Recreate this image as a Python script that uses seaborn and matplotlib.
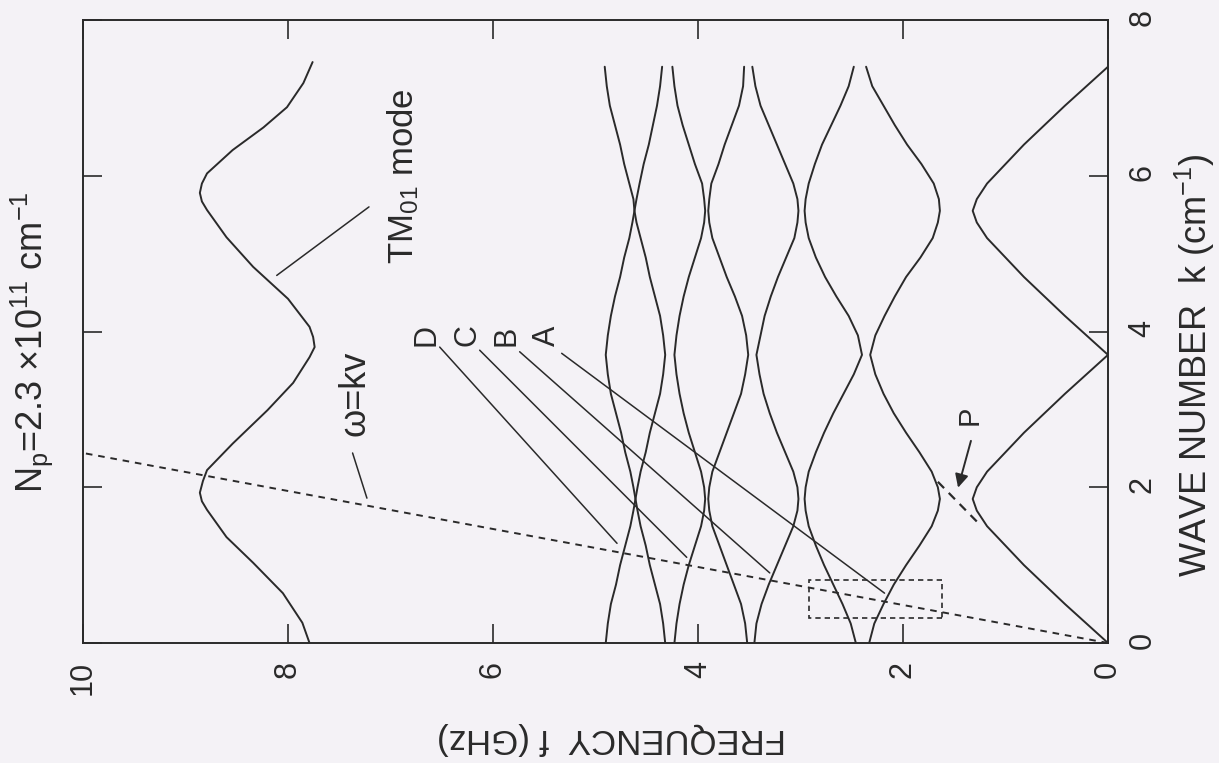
import matplotlib
matplotlib.use("Agg")
import matplotlib.pyplot as plt
import pandas as pd
import seaborn as sns
from matplotlib.patches import Rectangle

# ---------------------------------------------------------------------------
# Data (k in cm^-1, f in GHz)
# ---------------------------------------------------------------------------

# wave-number grid shared by the slow-wave bands
K_GRID = [0.0, 0.25, 0.5, 0.75, 1.0, 1.25, 1.5, 1.7, 1.85, 2.0, 2.2, 2.45, 2.7,
          2.95, 3.2, 3.45, 3.7, 3.95, 4.2, 4.45, 4.7, 4.95, 5.2, 5.4, 5.55,
          5.7, 5.9, 6.15, 6.4, 6.65, 6.9, 7.15, 7.4]

BAND_1 = [4.90, 4.88, 4.85, 4.80, 4.76, 4.71, 4.66, 4.63, 4.61, 4.59, 4.56,
          4.51, 4.47, 4.42, 4.37, 4.34, 4.32, 4.34, 4.37, 4.42, 4.47, 4.51,
          4.56, 4.60, 4.62, 4.63, 4.67, 4.72, 4.76, 4.81, 4.86, 4.89, 4.91]
BAND_2 = [4.32, 4.34, 4.37, 4.42, 4.47, 4.51, 4.56, 4.59, 4.61, 4.63, 4.66,
          4.71, 4.75, 4.80, 4.85, 4.88, 4.90, 4.88, 4.85, 4.81, 4.76, 4.72,
          4.67, 4.64, 4.62, 4.60, 4.57, 4.53, 4.48, 4.44, 4.40, 4.37, 4.35]
BAND_3 = [4.23, 4.21, 4.18, 4.14, 4.09, 4.03, 3.97, 3.94, 3.93, 3.94, 3.97,
          4.03, 4.09, 4.14, 4.18, 4.21, 4.23, 4.21, 4.18, 4.14, 4.09, 4.03,
          3.97, 3.94, 3.93, 3.94, 3.96, 4.03, 4.09, 4.15, 4.20, 4.23, 4.25]
BAND_4 = [3.52, 3.54, 3.58, 3.65, 3.72, 3.79, 3.86, 3.89, 3.90, 3.89, 3.86,
          3.79, 3.72, 3.65, 3.58, 3.54, 3.51, 3.53, 3.57, 3.64, 3.72, 3.79,
          3.86, 3.89, 3.90, 3.89, 3.87, 3.80, 3.74, 3.67, 3.60, 3.56, 3.55]
BAND_5 = [3.45, 3.43, 3.38, 3.31, 3.23, 3.15, 3.07, 3.03, 3.02, 3.03, 3.07,
          3.15, 3.23, 3.30, 3.36, 3.40, 3.43, 3.39, 3.35, 3.29, 3.22, 3.14,
          3.06, 3.03, 3.02, 3.03, 3.07, 3.15, 3.23, 3.31, 3.39, 3.44, 3.47]
BAND_6 = [2.46, 2.51, 2.59, 2.68, 2.77, 2.85, 2.92, 2.95, 2.96, 2.95, 2.92,
          2.85, 2.77, 2.68, 2.58, 2.48, 2.40, 2.44, 2.53, 2.65, 2.76, 2.85,
          2.92, 2.95, 2.96, 2.95, 2.92, 2.86, 2.79, 2.70, 2.61, 2.53, 2.48]
BAND_7 = [2.33, 2.28, 2.19, 2.09, 1.97, 1.84, 1.72, 1.66, 1.64, 1.66, 1.72,
          1.84, 1.97, 2.09, 2.19, 2.27, 2.32, 2.27, 2.18, 2.08, 1.97, 1.83,
          1.71, 1.66, 1.64, 1.65, 1.70, 1.82, 1.96, 2.08, 2.19, 2.30, 2.36]
BAND_8 = [0.00, 0.21, 0.42, 0.62, 0.82, 1.00, 1.18, 1.28, 1.32, 1.28, 1.18,
          1.00, 0.82, 0.62, 0.42, 0.21, 0.00, 0.21, 0.42, 0.62, 0.82, 1.00,
          1.18, 1.28, 1.32, 1.28, 1.18, 1.00, 0.82, 0.62, 0.42, 0.21, 0.00]

K_TM01 = [0.0, 0.26, 0.64, 1.03, 1.36, 1.71, 1.82, 1.93, 2.08, 2.22, 2.56,
          2.99, 3.34, 3.67, 3.80, 3.93, 4.06, 4.42, 4.83, 5.21, 5.56, 5.67,
          5.78, 5.90, 6.03, 6.33, 6.62, 6.88, 7.19, 7.46]
F_TM01 = [7.79, 7.86, 8.05, 8.34, 8.60, 8.79, 8.84, 8.86, 8.83, 8.79, 8.54,
          8.20, 7.95, 7.79, 7.74, 7.755, 7.79, 8.00, 8.34, 8.60, 8.79, 8.84,
          8.86, 8.84, 8.79, 8.54, 8.24, 8.01, 7.85, 7.76]

# beam line  omega = k v
BEAM_F = [0.0, 10.0]
BEAM_K = [0.0, 2.44]

# dashed box near the origin (f range, k range)
BOX_F = [1.62, 2.92]
BOX_K = [0.32, 0.81]

# dashed segment marked P and its arrow
P_SEG_F = [1.66, 1.28]
P_SEG_K = [2.07, 1.56]
P_ARROW_F = [1.33, 1.47]
P_ARROW_K = [2.63, 1.96]

# band labels D C B A with leader lines
BAND_LABELS = ["D", "C", "B", "A"]
LABEL_F = [6.65, 6.25, 5.87, 5.47]
LEADER_F0 = [6.52, 6.13, 5.74, 5.33]
LEADER_K0 = [3.80, 3.76, 3.74, 3.72]
LEADER_F1 = [4.79, 4.11, 3.30, 2.18]
LEADER_K1 = [1.28, 1.10, 0.90, 0.64]

TM_LEADER_F = [7.21, 8.11]
TM_LEADER_K = [5.60, 4.72]
BEAM_LEADER_F = [7.37, 7.23]
BEAM_LEADER_K = [2.44, 1.86]

F_TICKS = [0, 2, 4, 6, 8, 10]
K_TICKS = [0, 2, 4, 6, 8]

INK = "#2a2a2a"
PAPER = "#f4f2f6"

# ---------------------------------------------------------------------------
# Figure
# ---------------------------------------------------------------------------

sns.set_theme(style="ticks", rc={"axes.facecolor": PAPER, "figure.facecolor": PAPER})
plt.rcParams["font.family"] = ["Liberation Sans", "DejaVu Sans"]
plt.rcParams["mathtext.fontset"] = "custom"
plt.rcParams["mathtext.rm"] = "Liberation Sans"
plt.rcParams["mathtext.it"] = "Liberation Sans:italic"
plt.rcParams["mathtext.default"] = "regular"

bands = {"1": BAND_1, "2": BAND_2, "3": BAND_3, "4": BAND_4,
         "5": BAND_5, "6": BAND_6, "7": BAND_7, "8": BAND_8}
frames = [pd.DataFrame({"band": name, "k": K_GRID, "f": vals}) for name, vals in bands.items()]
frames.append(pd.DataFrame({"band": "TM01", "k": K_TM01, "f": F_TM01}))
df = pd.concat(frames, ignore_index=True)

fig = plt.figure(figsize=(12.19, 7.63), dpi=100)
ax = fig.add_axes([83 / 1219, 120 / 763, 1025 / 1219, 623 / 763])

sns.lineplot(data=df, x="f", y="k", units="band", estimator=None, sort=False,
             orient="y", color=INK, linewidth=1.4, ax=ax, legend=False)

# beam line and other dashed marks
ax.plot(BEAM_F, BEAM_K, color=INK, lw=1.4, ls=(0, (3.4, 3.0)))
ax.add_patch(Rectangle((BOX_F[0], BOX_K[0]), BOX_F[1] - BOX_F[0], BOX_K[1] - BOX_K[0],
                       fill=False, ec=INK, lw=1.2, ls=(0, (3.2, 2.4))))
ax.plot(P_SEG_F, P_SEG_K, color=INK, lw=1.6, ls=(0, (4, 3)))
ax.annotate("", xy=(P_ARROW_F[1], P_ARROW_K[1]), xytext=(P_ARROW_F[0], P_ARROW_K[0]),
            arrowprops=dict(arrowstyle="-|>", color=INK, lw=1.4, mutation_scale=20))
ax.text(1.35, 2.93, "P", rotation=90, fontsize=21, color=INK,
        ha="center", va="center", rotation_mode="anchor")

# leader lines and labels
for lab, fl, f0, k0, f1, k1 in zip(BAND_LABELS, LABEL_F, LEADER_F0, LEADER_K0,
                                   LEADER_F1, LEADER_K1):
    ax.plot([f0, f1], [k0, k1], color=INK, lw=1.1)
    ax.text(fl, 3.95, lab, rotation=90, fontsize=22, color=INK,
            ha="center", va="center", rotation_mode="anchor")

ax.plot(TM_LEADER_F, TM_LEADER_K, color=INK, lw=1.1)
ax.text(6.88, 6.0, "TM$_{01}$ mode", rotation=90, fontsize=25, color=INK,
        ha="center", va="center", rotation_mode="anchor")
ax.plot(BEAM_LEADER_F, BEAM_LEADER_K, color=INK, lw=1.1)
ax.text(7.35, 3.21, "ω=kv", rotation=90, fontsize=26, color=INK,
        ha="center", va="center", rotation_mode="anchor")
ax.text(-0.05, 0.483, "N$_{p}$=2.3 ×10$^{11}$ cm$^{-1}$", transform=ax.transAxes,
        rotation=90, fontsize=26, color=INK, ha="center", va="center",
        rotation_mode="anchor")

# axes: frequency runs right-to-left, wave number on the right side
ax.set_xlim(10, 0)
ax.set_ylim(0, 8)
ax.set_xticks(F_TICKS)
ax.set_yticks(K_TICKS)
ax.set_xticklabels([str(t) for t in F_TICKS])
ax.set_yticklabels([str(t) for t in K_TICKS])
ax.tick_params(which="both", direction="in", length=14, width=1.2, color=INK,
               top=True, bottom=True, left=True, right=True,
               labelleft=False, labelright=True, labelsize=22, labelcolor=INK)
ax.tick_params(axis="x", labelrotation=90, pad=13)
ax.tick_params(axis="y", labelrotation=90, pad=14)
for side in ax.spines.values():
    side.set_visible(True)
    side.set_color(INK)
    side.set_linewidth(1.4)

ax.set_xlabel("FREQUENCY  f (GHz)", rotation=180, fontsize=25, color=INK)
ax.xaxis.set_label_coords(0.516, -0.127)
ax.yaxis.set_label_position("right")
ax.set_ylabel("WAVE NUMBER  k (cm$^{-1}$)", rotation=90, fontsize=26, color=INK)
ax.yaxis.set_label_coords(1.063, 0.446)

fig.savefig("out.png", dpi=100, facecolor=PAPER)
plt.close(fig)
